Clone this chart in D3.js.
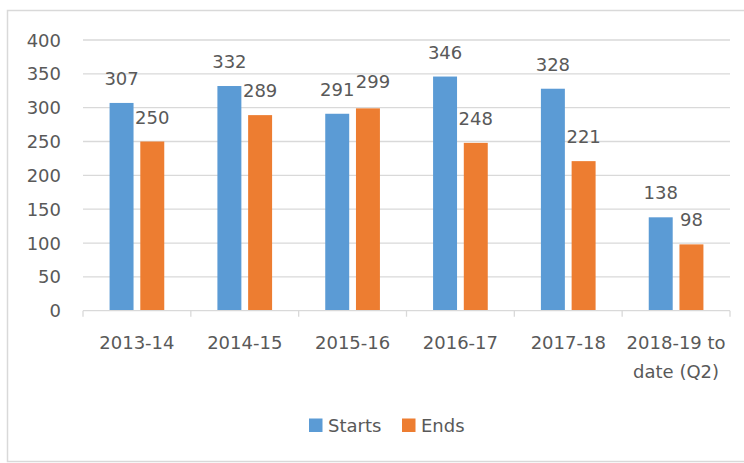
<!DOCTYPE html>
<html>
<head>
<meta charset="utf-8">
<script src="https://cdn.jsdelivr.net/npm/d3@7/dist/d3.min.js"></script>
<style>
  body { margin: 0; background: #fff; }
  text { font-family: "DejaVu Sans", sans-serif; fill: #595959; }
</style>
</head>
<body>
<div id="chart"></div>
<script>
// chart data
var categories = ["2013-14", "2014-15", "2015-16", "2016-17", "2017-18", "2018-19 to|date (Q2)"];
var seriesNames = ["Starts", "Ends"];
var starts = [307, 332, 291, 346, 328, 138];
var ends = [250, 289, 299, 248, 221, 98];
var yTicks = [0, 50, 100, 150, 200, 250, 300, 350, 400];
var colors = ["#5b9bd5", "#ed7d31"];

var W = 744, H = 463;
var plotLeft = 83, plotRight = 730, plotTop = 40, plotBottom = 310.7;

var svg = d3.select("#chart").append("svg")
    .attr("width", W).attr("height", H);

// outer border
svg.append("rect")
    .attr("x", 7.5).attr("y", 10.5)
    .attr("width", W + 10).attr("height", 451)
    .attr("fill", "none").attr("stroke", "#d9d9d9").attr("stroke-width", 1.5);

var y = d3.scaleLinear().domain([0, 400]).range([plotBottom, plotTop]);
var x0 = d3.scaleBand().domain(categories).range([plotLeft, plotRight]).padding(0);
var x1 = d3.scaleBand().domain(seriesNames).range([0, x0.bandwidth()])
    .paddingInner(0.22).paddingOuter(0.865);

// grid lines
svg.selectAll(".grid")
    .data(yTicks.filter(function(d){ return d > 0; }))
    .enter().append("line")
    .attr("x1", plotLeft).attr("x2", plotRight)
    .attr("y1", function(d){ return y(d); })
    .attr("y2", function(d){ return y(d); })
    .attr("stroke", "#d9d9d9").attr("stroke-width", 1.3);

// y tick labels
svg.selectAll(".ylab")
    .data(yTicks)
    .enter().append("text")
    .attr("x", 61)
    .attr("y", function(d){ return y(d) + 6.5; })
    .attr("text-anchor", "end")
    .style("font-size", "18px")
    .text(function(d){ return d; });

// bars
var table = categories.map(function(c, i) {
    return {cat: c, vals: [{s: "Starts", v: starts[i]}, {s: "Ends", v: ends[i]}]};
});
var groups = svg.selectAll(".grp")
    .data(table)
    .enter().append("g")
    .attr("transform", function(d){ return "translate(" + x0(d.cat) + ",0)"; });

groups.selectAll("rect")
    .data(function(d){ return d.vals; })
    .enter().append("rect")
    .attr("x", function(d){ return x1(d.s); })
    .attr("width", x1.bandwidth())
    .attr("y", function(d){ return y(d.v); })
    .attr("height", function(d){ return plotBottom - y(d.v); })
    .attr("fill", function(d, i){ return colors[i]; });

// value labels; nudge the second one when the pair would collide
groups.each(function(g) {
    var a = g.vals[0], b = g.vals[1];
    var clash = Math.abs(y(a.v) - y(b.v)) < 14;
    d3.select(this).selectAll(".val")
        .data(g.vals)
        .enter().append("text")
        .attr("x", function(d, i){ return x1(d.s) + x1.bandwidth() / 2 + (clash && i == 1 ? 5 : 0); })
        .attr("y", function(d, i){ return y(d.v) - 18 - (clash && i == 1 ? 2 : 0); })
        .attr("text-anchor", "middle")
        .style("font-size", "18px")
        .text(function(d){ return d.v; });
});

// x axis line and ticks
svg.append("line")
    .attr("x1", plotLeft).attr("x2", plotRight)
    .attr("y1", plotBottom).attr("y2", plotBottom)
    .attr("stroke", "#d9d9d9").attr("stroke-width", 1.3);
var bounds = categories.map(function(c){ return x0(c); }).concat([plotRight]);
svg.selectAll(".xtick")
    .data(bounds)
    .enter().append("line")
    .attr("x1", function(d){ return d; }).attr("x2", function(d){ return d; })
    .attr("y1", plotBottom).attr("y2", plotBottom + 6)
    .attr("stroke", "#d9d9d9").attr("stroke-width", 1.3);

// x labels
svg.selectAll(".xlab")
    .data(categories)
    .enter().append("text")
    .attr("text-anchor", "middle")
    .style("font-size", "18px")
    .attr("transform", function(d){ return "translate(" + (x0(d) + x0.bandwidth() / 2) + ",349)"; })
    .each(function(d) {
        var lines = d.split("|");
        var t = d3.select(this);
        lines.forEach(function(l, i) {
            t.append("tspan").attr("x", 0).attr("y", i * 29).text(l);
        });
    });

// legend
var legend = [{name: "Starts", x: 309}, {name: "Ends", x: 402}];
legend.forEach(function(l, i) {
    svg.append("rect")
        .attr("x", l.x).attr("y", 418.5)
        .attr("width", 13.5).attr("height", 13.5)
        .attr("fill", colors[i]);
    svg.append("text")
        .attr("x", l.x + 19).attr("y", 431.5)
        .style("font-size", "18px")
        .text(l.name);
});
</script>
</body>
</html>
